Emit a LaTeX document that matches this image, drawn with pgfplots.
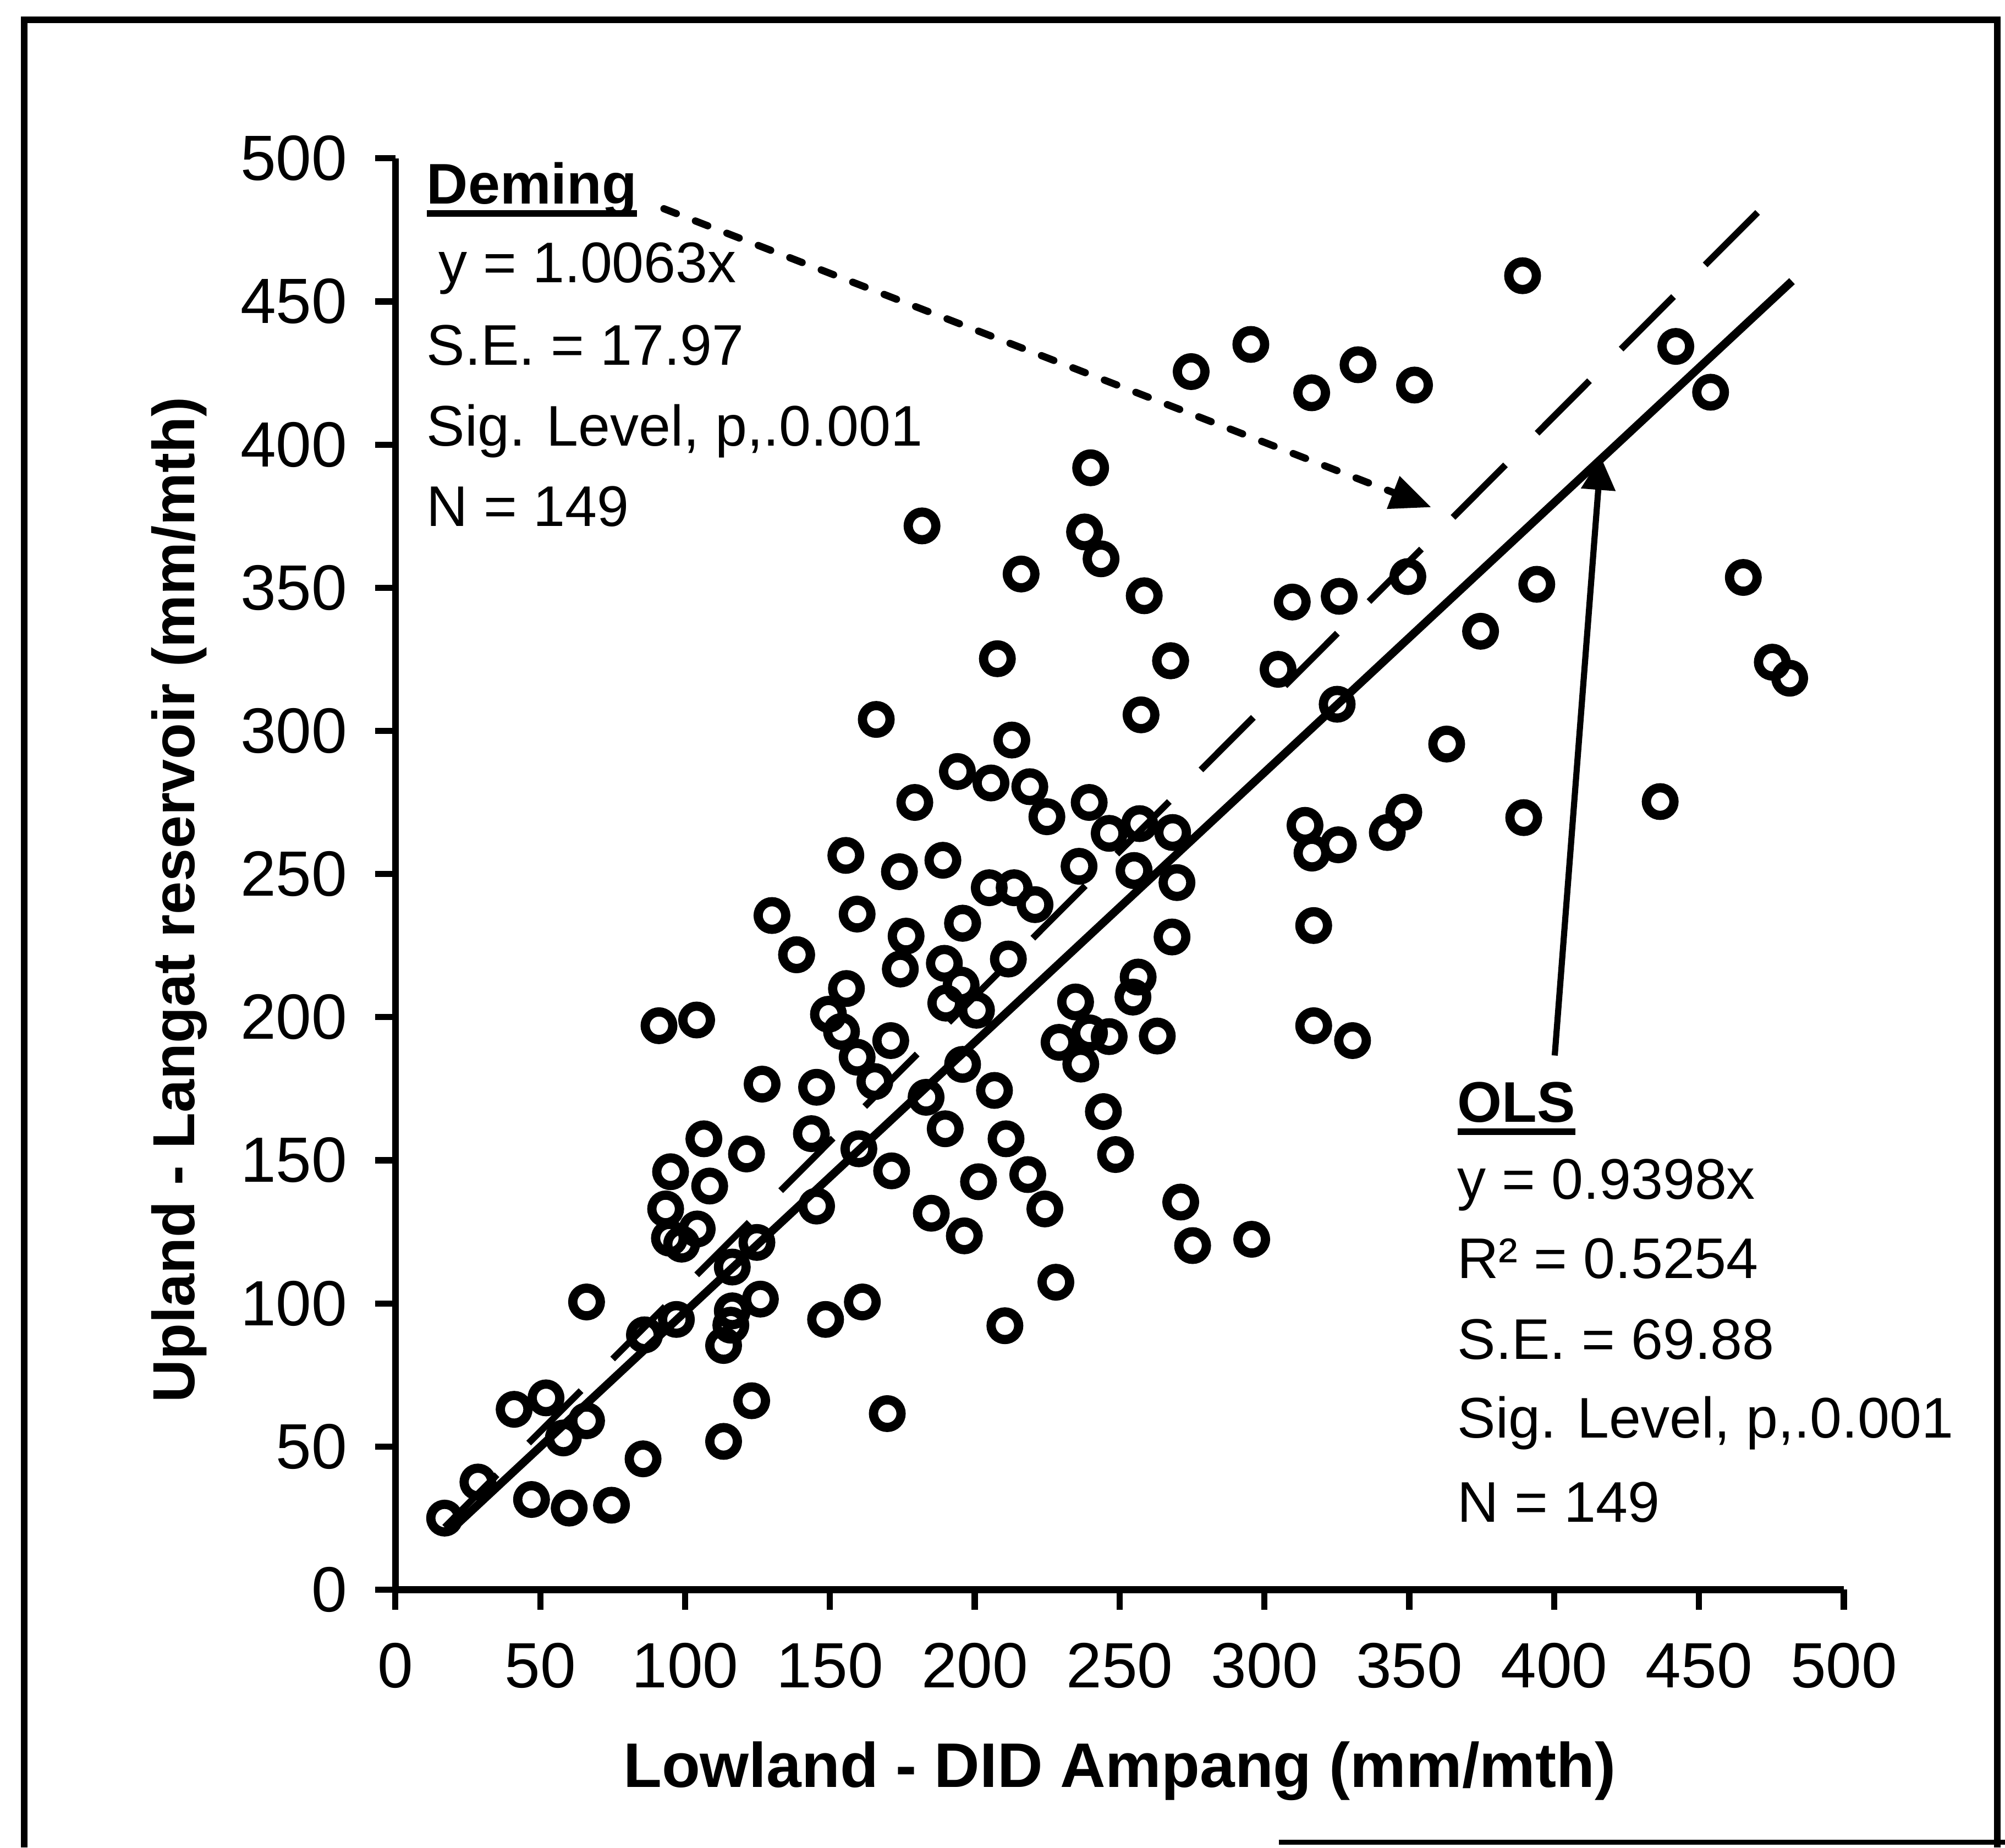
\documentclass[border=0pt]{standalone}
\usepackage{fontspec}
\setmainfont{Liberation Sans}
\usepackage{pgfplots}
\pgfplotsset{compat=1.18}
\usetikzlibrary{arrows.meta}
\newcommand{\ul}[1]{\setbox0=\hbox{#1}\rlap{\rule[-2.6pt]{\wd0}{1.3pt}}\box0}
\newcommand{\tf}{\fontsize{12.5}{15}\selectfont}
\newcommand{\af}{\fontsize{11.2}{13}\selectfont}
\begin{document}
\begin{tikzpicture}
\path[use as bounding box] (0,0) rectangle (392pt,361.15pt);
\draw[line width=1.3pt] (4.75pt,0) -- (4.75pt,357.3pt) -- (390.5pt,357.3pt) -- (390.5pt,0);
\draw[line width=1pt] (250pt,1pt) -- (392pt,1pt);
\begin{axis}[
  at={(77.3pt,50.4pt)}, anchor=south west,
  scale only axis, width=283.2pt, height=279.8pt,
  xmin=0, xmax=500, ymin=0, ymax=500,
  axis lines=left,
  axis line style={-, line width=1.3pt},
  xtick={0,50,...,500}, ytick={0,50,...,500},
  tick align=outside, major tick length=3.9pt,
  tick style={line width=1.2pt, black},
  /pgf/number format/assume math mode=true,
  ticklabel style={font=\tf},
  xticklabel style={yshift=-3pt},
  yticklabel style={xshift=-2pt},
  clip=false,
]
\addplot[only marks, mark=o, mark size=2.7pt, mark options={line width=1.8pt, black}] table {
x y
17 25
28.5 37.6
41 63
52 67
58 53
66 59
47 31.5
60 28.5
74.6 29.5
66 100.5
85.5 45.7
86 89
86 89
97 94.4
91 197
104 199
95 146
108.5 141
93.3 133
104.2 126
94.6 122.8
98.8 120.7
106.5 157.5
116.3 112.7
116.3 97.4
115.8 92.4
113.3 85.3
126 101.5
123 66
113.3 51.8
124.8 121.3
121.2 152.2
126.6 176.6
130 235.5
138.5 221.8
138.5 221.8
145.4 134
143.6 159.3
145.4 175.5
148.5 94.4
155.7 210
155.5 256.5
149.5 201
154 195
159.4 186
159.4 236
165.5 177.5
160 154
161.2 100.5
166 304
171 191.8
171.3 146.3
169.8 61.5
174.3 216.8
174 250.8
176.3 228.3
179.3 275
181.8 371.6
183.2 172
185 131.5
189 254.8
189.8 161
189.5 218.8
190 204.9
195.8 232.8
195.8 232.8
194 285.8
195.3 211.2
195.8 183.5
196.4 123.6
200.6 202.4
201.3 142.5
205.6 281.8
205 245.2
207.8 325.2
206.8 174.4
210.8 157.5
210.4 92.2
211.6 220.3
212.8 296.8
213.6 245.2
216 354.8
219 280.5
220.8 239.3
218.3 145
224.2 133
224.9 270
228 107.4
229.1 191.2
236.6 183.6
234.8 205.3
236 252.7
237.9 369.5
239.5 275
240 391.9
239.6 194.5
243.6 360.1
246.4 193.2
246.4 264.2
244.4 167
248.6 152
255 251.2
255 251.2
256.9 267.6
256.4 214
254.6 207
258.5 347.2
257.4 305.6
263 193.4
267.6 324.5
267.6 324.5
268.3 264.5
269.8 247
268.1 228
271.1 135.4
275.2 120.2
274.7 425.5
295.3 435
295.6 122.4
304.7 321.5
309.6 345
316.3 418.1
314 267
316.4 257.3
317 232
317 197
325.5 260.2
325.8 347
325.1 309.3
330.4 191.8
332.3 427.9
342.4 264.5
348.1 271.6
349.5 353.9
351.8 420.8
362.9 295.4
374.6 334.8
389.1 459
389.5 269.7
394 351.2
436.6 275.3
442 434.3
454 418.3
465.3 353.6
475.3 324
481.3 318.4
};
\addplot[black, line width=1.6pt] coordinates {(18.8,20.5) (482.1,457.1)};
\addplot[black, line width=1.3pt, dash pattern=on 14.5pt off 8.75pt] coordinates {(17,21.8) (478.4,489.4)};
\draw[line width=1.4pt, line cap=round, dash pattern=on 2.6pt off 4pt, -{Triangle[length=8pt,width=6.5pt]}] (axis cs:92.7,482.4) -- (axis cs:357.6,378.1);
\draw[line width=1.2pt, -{Triangle[length=6.5pt,width=6.5pt]}] (axis cs:400.2,186.6) -- (axis cs:416.1,395.8);
\begin{scope}[every node/.style={anchor=base west, inner sep=0pt, font=\af}]
\node at (axis cs:10.5,484.2) {\bfseries\ul{Deming}};
\node at (axis cs:14.6,456.6) {y = 1.0063x};
\node at (axis cs:10.5,427.8) {S.E. = 17.97};
\node at (axis cs:10.5,399.6) {Sig. Level, p,.0.001};
\node at (axis cs:10.5,371.5) {N = 149};
\node at (axis cs:366.3,163.4) {\bfseries\ul{OLS}};
\node at (axis cs:366.3,136.4) {y = 0.9398x};
\node at (axis cs:366.3,108.8) {R² = 0.5254};
\node at (axis cs:366.3,80.6) {S.E. = 69.88};
\node at (axis cs:366.3,53) {Sig. Level, p,.0.001};
\node at (axis cs:366.3,23.6) {N = 149};
\end{scope}
\node[anchor=base, inner sep=0pt, font=\fontsize{12.3}{15}\selectfont\bfseries] at ([yshift=-38.65pt]rel axis cs:0.5,0) {Lowland - DID Ampang (mm/mth)};
\node[anchor=base, rotate=90, inner sep=0pt, font=\fontsize{11.6}{15}\selectfont\bfseries] at ([xshift=-39.3pt]rel axis cs:0,0.482) {Upland - Langat reservoir (mm/mth)};
\end{axis}
\end{tikzpicture}
\end{document}
